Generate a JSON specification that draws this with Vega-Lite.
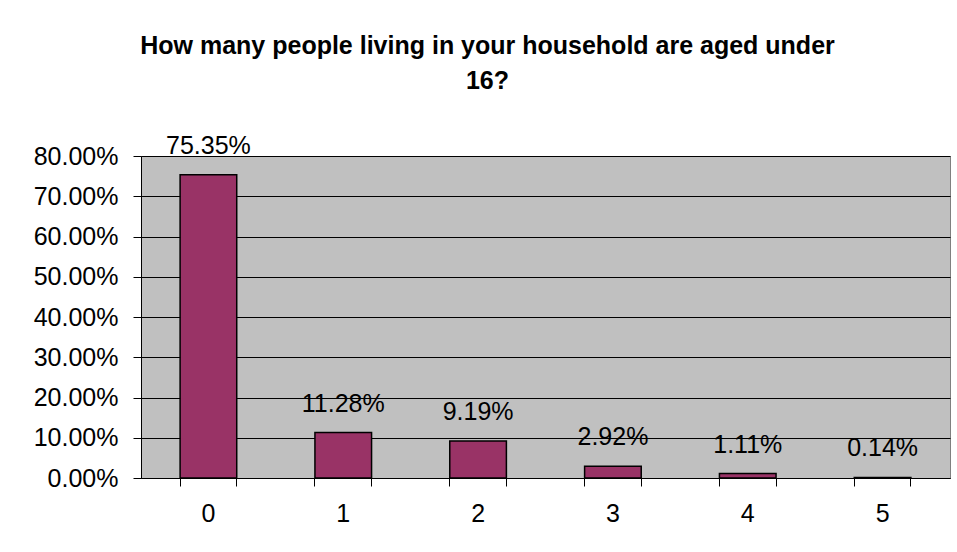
{
  "$schema": "https://vega.github.io/schema/vega-lite/v6.json",
  "width": 809,
  "height": 322,
  "autosize": {"type": "none"},
  "padding": {"left": 141, "top": 156, "right": 7, "bottom": 74},
  "background": "white",
  "title": {
    "text": ["How many people living in your household are aged under", "16?"],
    "font": "Liberation Sans",
    "fontSize": 25,
    "fontWeight": "bold",
    "color": "black",
    "lineHeight": 35,
    "anchor": "middle",
    "frame": "group",
    "dx": -58,
    "offset": 40
  },
  "data": {
    "values": [
      {"cat": "0", "pct": 0.7535},
      {"cat": "1", "pct": 0.1128},
      {"cat": "2", "pct": 0.0919},
      {"cat": "3", "pct": 0.0292},
      {"cat": "4", "pct": 0.0111},
      {"cat": "5", "pct": 0.0014}
    ]
  },
  "config": {
    "view": {"fill": "#C0C0C0", "stroke": "#808080", "strokeWidth": 1},
    "font": "Liberation Sans"
  },
  "encoding": {
    "y": {
      "field": "pct",
      "type": "quantitative",
      "scale": {"domain": [0, 0.8], "nice": false},
      "axis": {
        "title": null,
        "values": [0, 0.1, 0.2, 0.3, 0.4, 0.5, 0.6, 0.7, 0.8],
        "format": ".2%",
        "labelFont": "Liberation Sans",
        "labelFontSize": 25,
        "labelColor": "black",
        "labelPadding": 15,
        "tickSize": 8,
        "tickColor": "black",
        "domainColor": "black",
        "grid": true,
        "gridColor": "black",
        "gridWidth": 1,
        "gridOpacity": 1
      }
    }
  },
  "layer": [
    {
      "mark": {"type": "bar", "fill": "#993366", "stroke": "black", "strokeWidth": 1.5},
      "encoding": {
        "x": {
          "field": "cat",
          "type": "ordinal",
          "sort": null,
          "scale": {"paddingInner": 0.58, "paddingOuter": 0.29},
          "axis": {
            "orient": "bottom",
            "title": null,
            "labelAngle": 0,
            "labelFont": "Liberation Sans",
            "labelFontSize": 25,
            "labelColor": "black",
            "labelPadding": 23,
            "ticks": false,
            "domain": true,
            "domainColor": "black",
            "grid": false
          }
        }
      }
    },
    {
      "mark": {"type": "text", "baseline": "alphabetic", "dy": -21, "fontSize": 25, "font": "Liberation Sans", "color": "black"},
      "encoding": {
        "x": {
          "field": "cat",
          "type": "ordinal",
          "sort": null,
          "axis": {
            "orient": "bottom",
            "title": null,
            "bandPosition": 0,
            "labels": false,
            "domain": false,
            "ticks": true,
            "tickSize": 8,
            "tickColor": "black",
            "grid": false
          }
        },
        "text": {"field": "pct", "type": "quantitative", "format": ".2%"}
      }
    },
    {
      "mark": {"type": "bar", "opacity": 0},
      "encoding": {
        "x": {
          "field": "cat",
          "type": "ordinal",
          "sort": null,
          "axis": {
            "orient": "bottom",
            "title": null,
            "bandPosition": 1,
            "labels": false,
            "domain": false,
            "ticks": true,
            "tickSize": 8,
            "tickColor": "black",
            "grid": false
          }
        }
      }
    }
  ],
  "resolve": {"axis": {"x": "independent"}}
}
